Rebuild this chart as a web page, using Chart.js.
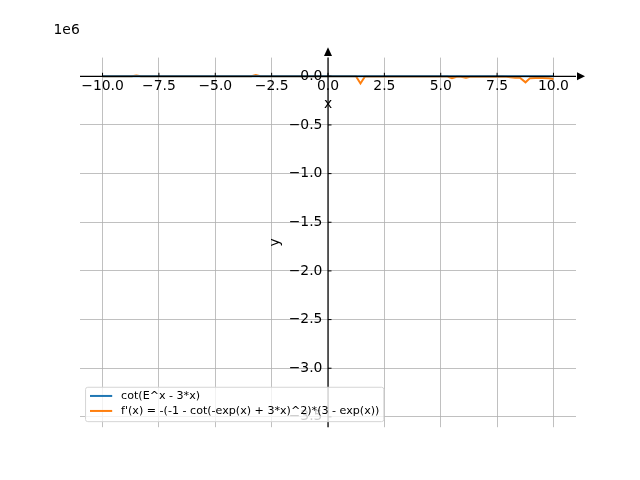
<!DOCTYPE html>
<html><head><meta charset="utf-8">
<script src="https://cdn.jsdelivr.net/npm/chart.js@4"></script>
<style>html,body{margin:0;padding:0;background:#fff}canvas{display:block}</style>
</head><body>
<canvas id="c" width="640" height="480"></canvas>
<script>
// ---- data ----
const seriesLabels = ['cot(E^x - 3*x)', "f'(x) = -(-1 - cot(-exp(x) + 3*x)^2)*(3 - exp(x))"];
const fnX = [-10, -7.5, -5, -2.5, 0, 1.44, 2.5, 5, 7.5, 10];
const fnY = [0, 0, 0, 0, 0, 0, 0, 0, 0, 0];
const derivX = [-10, -8.7, -8.5, -8.3, -3.4, -3.2, -3.0, 1.24, 1.44, 1.64, 5.1, 5.3, 5.5, 5.7, 5.9, 6.12, 6.3, 7.7, 7.9, 8.1, 8.3, 8.5, 8.76, 8.96, 9.2, 9.5, 9.8, 10];
const derivY = [0, 0, 8000, 0, 0, 12000, 0, 0, -74000, -1000, -1000, -3000, -20000, -5000, -4000, -16000, -4000, -3000, -6000, -10000, -15000, -13000, -62000, -19000, -18000, -17000, -20000, -28000];
const xTicks = [-10, -7.5, -5, -2.5, 0, 2.5, 5, 7.5, 10];
const xTickLabels = ['\u221210.0', '\u22127.5', '\u22125.0', '\u22122.5', '0.0', '2.5', '5.0', '7.5', '10.0'];
const yTicks = [0, -500000, -1000000, -1500000, -2000000, -2500000, -3000000, -3500000];
const yTickLabels = ['0.0', '\u22120.5', '\u22121.0', '\u22121.5', '\u22122.0', '\u22122.5', '\u22123.0', '\u22123.5'];
const xRange = [-11, 11];
const yRange = [-3606000, 192000];
const offsetLabel = '1e6';
const xTitle = 'x';
const yTitle = 'y';

const FONT = '"DejaVu Sans", "Liberation Sans", sans-serif';
Chart.defaults.font.family = FONT;

const decor = {
  id: 'decor',
  afterDatasetsDraw(chart) {
    const {ctx, chartArea: a, scales: {x, y}} = chart;
    const x0 = x.getPixelForValue(0), y0 = y.getPixelForValue(0);
    ctx.save();
    ctx.strokeStyle = '#000'; ctx.fillStyle = '#000';
    // spines
    ctx.lineWidth = 1.2;
    ctx.beginPath();
    ctx.moveTo(a.left, y0); ctx.lineTo(a.right, y0);
    ctx.moveTo(x0, a.top); ctx.lineTo(x0, a.bottom);
    ctx.stroke();
    // tick marks
    ctx.lineWidth = 1;
    ctx.beginPath();
    xTicks.forEach(v => { const p = x.getPixelForValue(v); ctx.moveTo(p, y0); ctx.lineTo(p, y0 - 3.5); });
    yTicks.forEach(v => { const p = y.getPixelForValue(v); ctx.moveTo(x0, p); ctx.lineTo(x0 + 3.5, p); });
    ctx.stroke();
    // arrows
    ctx.beginPath();
    ctx.moveTo(a.right + 9, y0); ctx.lineTo(a.right + 1, y0 - 4); ctx.lineTo(a.right + 1, y0 + 4); ctx.closePath(); ctx.fill();
    ctx.beginPath();
    ctx.moveTo(x0, a.top - 10.3); ctx.lineTo(x0 - 4, a.top - 1.6); ctx.lineTo(x0 + 4, a.top - 1.6); ctx.closePath(); ctx.fill();
    // y tick labels
    ctx.font = '13.9px ' + FONT;
    ctx.textAlign = 'right'; ctx.textBaseline = 'middle';
    yTicks.forEach((v, i) => ctx.fillText(yTickLabels[i], x0 - 5.6, y.getPixelForValue(v)));
    // offset text
    ctx.textAlign = 'left'; ctx.textBaseline = 'alphabetic';
    ctx.fillText(offsetLabel, a.left - 26.5, a.top - 24.1);
    // axis titles
    ctx.textAlign = 'center';
    ctx.fillText(xTitle, x0, y0 + 32);
    ctx.save();
    ctx.translate(278.6, (a.top + a.bottom) / 2);
    ctx.rotate(-Math.PI / 2);
    ctx.fillText(yTitle, 0, 0);
    ctx.restore();
    // legend
    const fs = 11.1;
    ctx.font = fs + 'px ' + FONT;
    const ds = chart.data.datasets;
    const tw = Math.max(...ds.map(d => ctx.measureText(d.label).width));
    const lx = a.left + 0.5 * fs, bottom = a.bottom - 0.5 * fs;
    const h = 34.4, top = bottom - h;
    const w = 0.4 * fs + 2 * fs + 0.8 * fs + tw + 0.4 * fs;
    const r = 2.2;
    ctx.beginPath();
    ctx.moveTo(lx + r, top); ctx.lineTo(lx + w - r, top); ctx.arcTo(lx + w, top, lx + w, top + r, r);
    ctx.lineTo(lx + w, bottom - r); ctx.arcTo(lx + w, bottom, lx + w - r, bottom, r);
    ctx.lineTo(lx + r, bottom); ctx.arcTo(lx, bottom, lx, bottom - r, r);
    ctx.lineTo(lx, top + r); ctx.arcTo(lx, top, lx + r, top, r);
    ctx.closePath();
    ctx.fillStyle = 'rgba(255,255,255,0.8)'; ctx.fill();
    ctx.strokeStyle = '#d5d5d5'; ctx.lineWidth = 1; ctx.stroke();
    ds.forEach((d, i) => {
      const cy = top + 8.7 + i * 15;
      ctx.strokeStyle = d.borderColor; ctx.lineWidth = 2;
      ctx.beginPath(); ctx.moveTo(lx + 0.4 * fs, cy); ctx.lineTo(lx + 2.4 * fs, cy); ctx.stroke();
      ctx.fillStyle = '#000'; ctx.textAlign = 'left'; ctx.textBaseline = 'middle';
      ctx.fillText(d.label, lx + 3.2 * fs, cy);
    });
    ctx.restore();
  }
};

new Chart(document.getElementById('c'), {
  type: 'line',
  data: {
    datasets: [
      { label: seriesLabels[0], data: fnX.map((v, i) => ({x: v, y: fnY[i]})), borderColor: '#1f77b4', borderWidth: 2, pointRadius: 0, fill: false, tension: 0 },
      { label: seriesLabels[1], data: derivX.map((v, i) => ({x: v, y: derivY[i]})), borderColor: '#ff7f0e', borderWidth: 2, pointRadius: 0, fill: false, tension: 0 }
    ]
  },
  options: {
    responsive: false, animation: false, devicePixelRatio: 1,
    layout: { padding: { left: 80, right: 64, top: 57.6, bottom: 52.8 } },
    plugins: { legend: { display: false }, tooltip: { enabled: false } },
    scales: {
      x: {
        type: 'linear', min: xRange[0], max: xRange[1], position: { y: 0 },
        afterFit: s => { s.height = 0; },
        afterBuildTicks: s => { s.ticks = xTicks.map(v => ({value: v})); },
        ticks: { callback: v => xTickLabels[xTicks.indexOf(v)], color: '#000', font: { size: 13.9 }, padding: 1.5, maxRotation: 0, minRotation: 0, autoSkip: false },
        grid: { color: '#b0b0b0', lineWidth: 0.8, drawTicks: false },
        border: { display: false }
      },
      y: {
        type: 'linear', min: yRange[0], max: yRange[1], position: { x: 0 },
        afterFit: s => { s.width = 0; },
        afterBuildTicks: s => { s.ticks = yTicks.map(v => ({value: v})); },
        ticks: { display: false },
        grid: { color: '#b0b0b0', lineWidth: 0.8, drawTicks: false },
        border: { display: false }
      }
    }
  },
  plugins: [decor]
});
</script>
</body></html>
